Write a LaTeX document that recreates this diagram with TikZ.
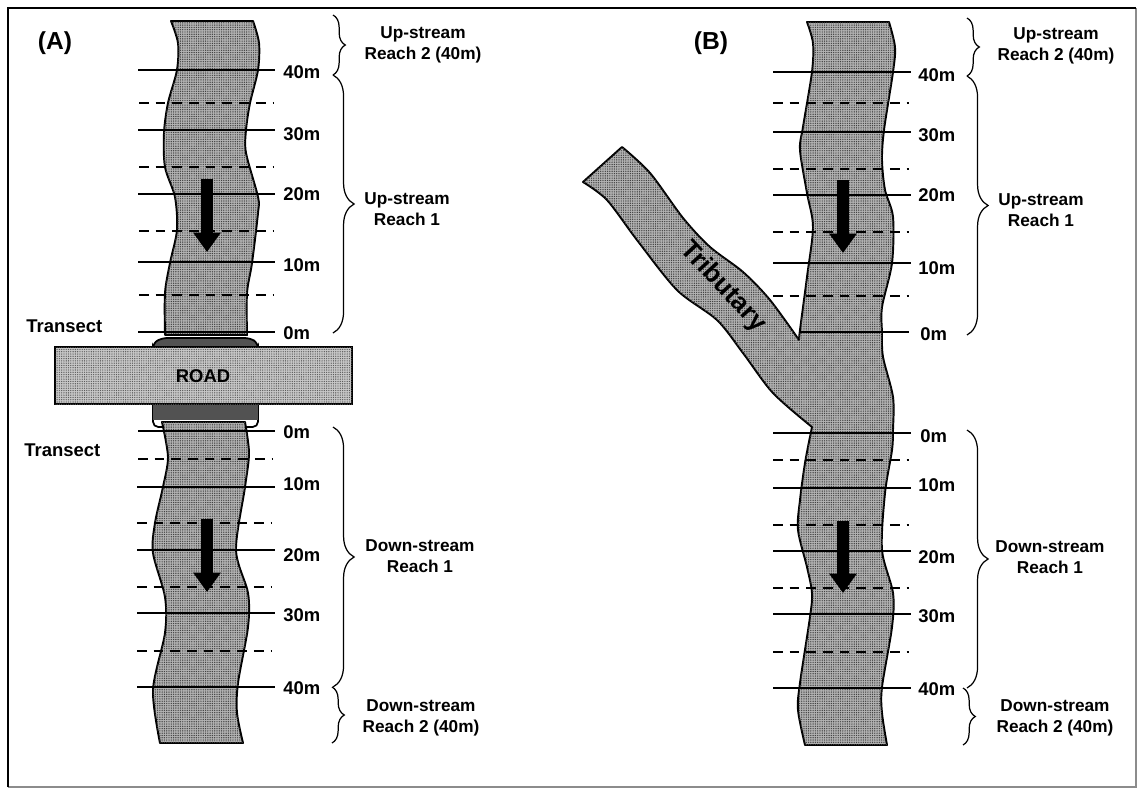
\documentclass[tikz,border=0pt]{standalone}
\usepackage{fontspec}
\setmainfont{Liberation Sans}
\usetikzlibrary{arrows.meta,decorations.pathreplacing,patterns.meta}

\begin{document}
\begin{tikzpicture}[x=0.02cm,y=-0.02cm,
  river/.style={draw=black,line width=1.1pt,fill=black!30,line join=round,postaction={pattern={Dots[distance=1.3pt,radius=.4pt]},pattern color=black!75}},
  roadbox/.style={draw=black,line width=1.1pt,fill=black!22,postaction={pattern={Dots[distance=1.3pt,radius=.38pt]},pattern color=black!65}},
  culvert/.style={draw=black,line width=1pt,fill=black!68,rounded corners=3pt},
  tick/.style={line width=.9pt},
  halftick/.style={line width=.9pt,dash pattern=on 5.5pt off 4pt},
  flow/.style={line width=7pt,-{Triangle[length=11pt,width=15pt]}},
  dist/.style={anchor=west,inner sep=0pt,font=\fontsize{10.5}{12}\selectfont\bfseries},
  reach/.style={inner sep=0pt,align=center,font=\fontsize{9.8}{12}\selectfont\bfseries},
  shortbrace/.style={line width=.7pt,decorate,decoration={brace,amplitude=7pt}},
  longbrace/.style={line width=.7pt,decorate,decoration={brace,amplitude=12pt}}]
\useasboundingbox (0,0) rectangle (1137,788);

% frame
\draw[black!45,line width=.8pt] (8,787) -- (1136,787) -- (1136,8);
\draw[line width=1.2pt] (8,787) -- (8,8) -- (1136,8);

% panel A: culverts under the road
\draw[culvert] (153,352) -- (153,343) -- (162,338) -- (250,338) -- (258,343) -- (258,352) -- cycle;
\draw[draw=black,line width=1pt,fill=white,rounded corners=3pt] (153,400) rectangle (258,427);
\fill[black!68] (153,400) rectangle (258,420);

% panel A: stream above and below
\draw[river] plot[smooth] coordinates {(171,21) (178,43) (177,70) (168,103) (164,133) (165,167) (175,197) (177,230) (170,263) (165,293) (165,335)}
  -- plot[smooth] coordinates {(247,335) (247,293) (252,263) (258,213) (258,197) (246,153) (246,130) (250,103) (258,70) (259,43) (253,21)} -- cycle;
\draw[river] plot[smooth] coordinates {(162,422) (168,457) (163,487) (155,523) (153,553) (165,597) (165,633) (153,690) (160,743)}
  -- plot[smooth] coordinates {(243,743) (237,713) (238,683) (248,627) (248,593) (236,550) (245,487) (249,453) (245,422)} -- cycle;

% panel A: road
\draw[roadbox] (55,347) rectangle (352,404);
\node[inner sep=0pt,font=\fontsize{10.5}{12}\selectfont\bfseries] (roadA) at (203,376) {ROAD};

% panel A: transects
\draw[tick] (138,70) -- (275,70);
\draw[halftick] (139,103) -- (273,103);
\draw[tick] (138,130) -- (275,130);
\draw[halftick] (139,167) -- (273,167);
\draw[tick] (138,194) -- (275,194);
\draw[halftick] (139,231) -- (273,231);
\draw[tick] (138,262) -- (275,262);
\draw[halftick] (139,295) -- (273,295);
\draw[tick] (138,332) -- (275,332);
\draw[tick] (138,431) -- (275,431);
\draw[halftick] (138,459) -- (272,459);
\draw[tick] (137,487) -- (275,487);
\draw[halftick] (137,523) -- (272,523);
\draw[tick] (137,550) -- (275,550);
\draw[halftick] (137,587) -- (272,587);
\draw[tick] (137,613) -- (275,613);
\draw[halftick] (137,651) -- (272,651);
\draw[tick] (137,687) -- (275,687);

% panel A: flow
\draw[flow] (207,179) -- (207,252);
\draw[flow] (207,519) -- (207,592);

% panel A: labels
\node[inner sep=0pt,font=\fontsize{14}{16}\selectfont\bfseries] (titleA) at (55,43) {(A)};
\node[dist] (upAf) at (283,72) {40m};
\node[dist] (upAt) at (283,134) {30m};
\node[dist] (upAw) at (283,194) {20m};
\node[dist] (upAo) at (283,265) {10m};
\node[dist] (upAz) at (283,333) {0m};
\node[dist] (dnAz) at (283,432) {0m};
\node[dist] (dnAo) at (283,484) {10m};
\node[dist] (dnAw) at (283,555) {20m};
\node[dist] (dnAt) at (283,615) {30m};
\node[dist] (dnAf) at (283,688) {40m};
\node[dist] (transectAu) at (26,326) {Transect};
\node[dist] (transectAd) at (24,450) {Transect};
\node[reach] (reachAua) at (423,45) {Up-stream\\Reach 2 (40m)};
\node[reach] (reachAub) at (407,209) {Up-stream\\Reach 1};
\node[reach] (reachAda) at (420,556) {Down-stream\\Reach 1};
\node[reach] (reachAdb) at (421,718) {Down-stream\\Reach 2 (40m)};

% panel A: braces
\draw[shortbrace] (333,15) -- (333,75);
\draw[longbrace] (333,75) -- (333,333);
\draw[longbrace] (333,427) -- (333,687);
\draw[shortbrace] (332,687) -- (332,743);

% panel B: stream with tributary
\draw[river] plot[smooth] coordinates {(807,22) (813,43) (812,72) (803,127) (800,150) (807,193) (813,227) (807,277) (800,330) (799,340)}
  -- plot[smooth] coordinates {(799,340) (770,300) (743,272) (710,247) (683,218) (650,173) (622,147)}
  -- (583,182)
  -- plot[smooth] coordinates {(583,182) (607,200) (637,240) (677,290) (717,320) (743,353) (773,393) (812,427)}
  -- plot[smooth] coordinates {(811,432) (805,463) (800,500) (798,530) (807,567) (812,593) (810,617) (800,683) (798,710) (805,745)}
  -- plot[smooth] coordinates {(887,745) (882,713) (882,687) (892,627) (893,593) (882,550) (885,493) (892,450) (893,430) (893,397) (883,357) (882,333) (882,307) (892,263) (893,217) (885,190) (882,160) (884,130) (893,72) (895,47) (889,22)} -- cycle;

% panel B: transects
\draw[tick] (773,72) -- (911,72);
\draw[halftick] (773,103) -- (909,103);
\draw[tick] (773,132) -- (911,132);
\draw[halftick] (773,169) -- (909,169);
\draw[tick] (773,195) -- (911,195);
\draw[halftick] (773,232) -- (909,232);
\draw[tick] (773,263) -- (911,263);
\draw[halftick] (773,296) -- (909,296);
\draw[tick] (800,332) -- (909,332);
\draw[tick] (773,433) -- (911,433);
\draw[halftick] (773,460) -- (909,460);
\draw[tick] (773,488) -- (911,488);
\draw[halftick] (773,525) -- (909,525);
\draw[tick] (773,551) -- (911,551);
\draw[halftick] (773,588) -- (909,588);
\draw[tick] (773,614) -- (911,614);
\draw[halftick] (773,652) -- (909,652);
\draw[tick] (773,688) -- (911,688);

% panel B: flow
\draw[flow] (843,180) -- (843,253);
\draw[flow] (843,521) -- (843,593);

% panel B: labels
\node[inner sep=0pt,font=\fontsize{14}{16}\selectfont\bfseries] (titleB) at (711,43) {(B)};
\node[inner sep=0pt,rotate=-47,font=\fontsize{15}{17}\selectfont\bfseries] (tributary) at (723,287) {Tributary};
\node[dist] (upBf) at (918,75) {40m};
\node[dist] (upBt) at (918,135) {30m};
\node[dist] (upBw) at (918,195) {20m};
\node[dist] (upBo) at (918,268) {10m};
\node[dist] (upBz) at (920,334) {0m};
\node[dist] (dnBz) at (920,436) {0m};
\node[dist] (dnBo) at (918,485) {10m};
\node[dist] (dnBw) at (918,557) {20m};
\node[dist] (dnBt) at (918,616) {30m};
\node[dist] (dnBf) at (918,689) {40m};
\node[reach] (reachBua) at (1056,46) {Up-stream\\Reach 2 (40m)};
\node[reach] (reachBub) at (1041,210) {Up-stream\\Reach 1};
\node[reach] (reachBda) at (1050,557) {Down-stream\\Reach 1};
\node[reach] (reachBdb) at (1055,718) {Down-stream\\Reach 2 (40m)};

% panel B: braces
\draw[shortbrace] (967,18) -- (967,76);
\draw[longbrace] (967,76) -- (967,335);
\draw[longbrace] (967,430) -- (967,688);
\draw[shortbrace] (963,688) -- (963,745);
\end{tikzpicture}
\end{document}
